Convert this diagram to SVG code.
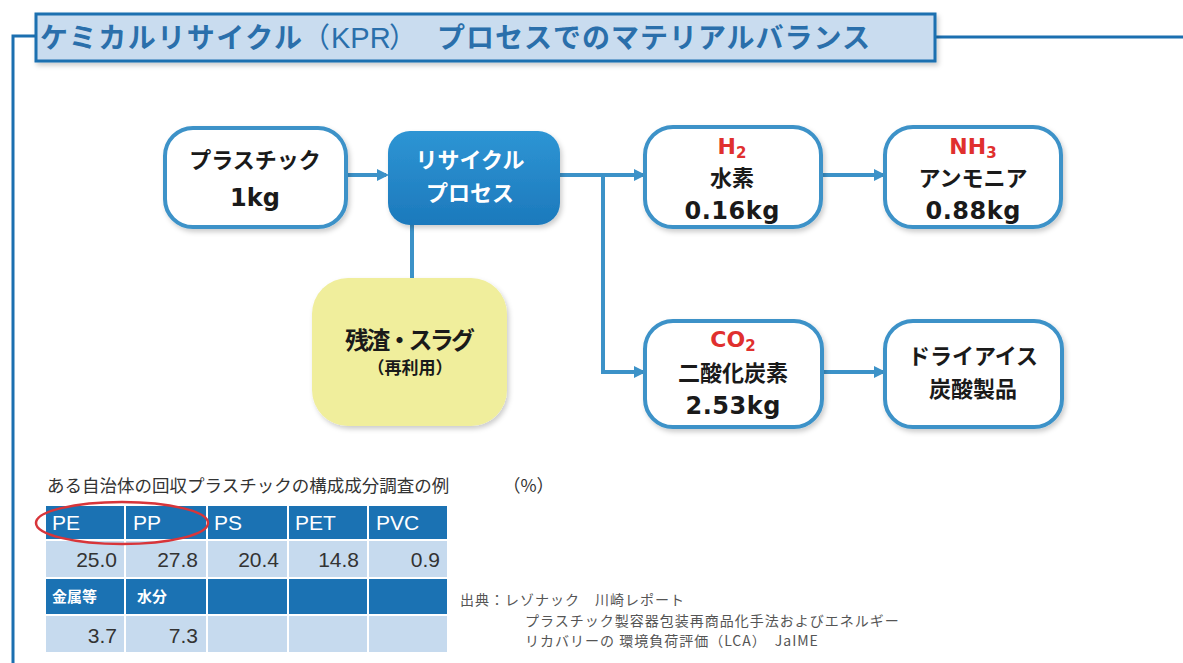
<svg xmlns="http://www.w3.org/2000/svg" width="1183" height="663" viewBox="0 0 1183 663">
<defs>
<style>
.jp{font-family:"DejaVu Sans","Noto Sans CJK JP",sans-serif;font-weight:bold;}
.title{font-family:"Noto Sans CJK JP",sans-serif;font-weight:bold;fill:#2a6fab;font-size:28px;}
.box{fill:#ffffff;stroke:#3c92c8;stroke-width:4;}
.conn{stroke:#3c92c8;stroke-width:4;fill:none;}
.dark{fill:#1a1a1a;}
.red{fill:#e0302e;}
.tbl{font-family:"Liberation Sans","Noto Sans CJK JP",sans-serif;}
.hd{fill:#1b72b3;}
.dt{fill:#c6daee;}
.note{font-family:"Noto Sans CJK JP",sans-serif;fill:#555;font-size:14px;letter-spacing:1px;}
</style>
<linearGradient id="blueg" x1="0" y1="0" x2="0" y2="1">
<stop offset="0" stop-color="#2e95d4"/>
<stop offset="1" stop-color="#1c79bc"/>
</linearGradient>
<marker id="arr" markerWidth="12" markerHeight="12" refX="9" refY="6" orient="auto" markerUnits="userSpaceOnUse" viewBox="0 0 12 12">
<path d="M0,0 L12,6 L0,12 z" fill="#3c92c8"/>
</marker>
<filter id="sh" x="-10%" y="-10%" width="130%" height="130%">
<feDropShadow dx="2" dy="3" stdDeviation="2.5" flood-color="#000" flood-opacity="0.2"/>
</filter>
</defs>
<rect width="1183" height="663" fill="#ffffff"/>

<g id="frame">
<path d="M13,663 V36 H36" fill="none" stroke="#1b6fb0" stroke-width="3"/>
<line x1="935" y1="37" x2="1183" y2="37" stroke="#1b6fb0" stroke-width="3"/>
<rect x="36" y="14" width="899" height="47" fill="#c9dcef" stroke="#1b6fb0" stroke-width="3" filter="url(#sh)"/>
<text class="title" y="48"><tspan x="40" textLength="262">ケミカルリサイクル</tspan><tspan x="302" font-weight="normal">（</tspan><tspan x="331" font-weight="normal" font-family="Liberation Sans, sans-serif" font-size="29">KPR</tspan><tspan x="389" font-weight="normal">）</tspan><tspan x="437" textLength="433">プロセスでのマテリアルバランス</tspan></text>
</g>

<g id="connectors">
<line class="conn" x1="347" y1="175" x2="386" y2="175" marker-end="url(#arr)"/>
<line class="conn" x1="560" y1="175" x2="643" y2="175" marker-end="url(#arr)"/>
<path class="conn" d="M603,175 V372 H643" marker-end="url(#arr)"/>
<line class="conn" x1="822" y1="175" x2="883" y2="175" marker-end="url(#arr)"/>
<line class="conn" x1="824" y1="372" x2="883" y2="372" marker-end="url(#arr)"/>
<line class="conn" x1="412" y1="225" x2="412" y2="279"/>
</g>

<g id="plastic">
<rect class="box" x="165" y="128" width="181" height="99" rx="28" filter="url(#sh)"/>
<text class="jp dark" x="255" y="168" font-size="22" text-anchor="middle">プラスチック</text>
<text class="jp dark" x="255" y="206" font-size="24" text-anchor="middle">1kg</text>
</g>

<g id="recycle">
<rect x="388" y="131" width="172" height="94" rx="22" fill="url(#blueg)" filter="url(#sh)"/>
<text class="jp" x="470" y="168" font-size="22" fill="#ffffff" text-anchor="middle">リサイクル</text>
<text class="jp" x="470" y="201" font-size="22" fill="#ffffff" text-anchor="middle">プロセス</text>
</g>

<g id="residue">
<rect x="312" y="278" width="195" height="148" rx="36" fill="#f0ee9c" filter="url(#sh)"/>
<text class="jp dark" x="410" y="349" font-size="24" text-anchor="middle" textLength="130">残渣・スラグ</text>
<text class="jp dark" x="410" y="374" font-size="17" text-anchor="middle">（再利用）</text>
</g>

<g id="h2">
<rect class="box" x="645" y="127" width="176" height="100" rx="28" filter="url(#sh)"/>
<text class="jp red" x="732" y="154" font-size="22" text-anchor="middle">H<tspan font-size="15" dy="4">2</tspan></text>
<text class="jp dark" x="732" y="186" font-size="22" text-anchor="middle">水素</text>
<text class="jp dark" x="732" y="219" font-size="24" text-anchor="middle" textLength="95">0.16kg</text>
</g>

<g id="nh3">
<rect class="box" x="885" y="127" width="176" height="100" rx="28" filter="url(#sh)"/>
<text class="jp red" x="973" y="154" font-size="22" text-anchor="middle">NH<tspan font-size="15" dy="4">3</tspan></text>
<text class="jp dark" x="973" y="186" font-size="22" text-anchor="middle">アンモニア</text>
<text class="jp dark" x="973" y="219" font-size="24" text-anchor="middle" textLength="95">0.88kg</text>
</g>

<g id="co2">
<rect class="box" x="645" y="321" width="177" height="106" rx="28" filter="url(#sh)"/>
<text class="jp red" x="733" y="347" font-size="22" text-anchor="middle">CO<tspan font-size="15" dy="4">2</tspan></text>
<text class="jp dark" x="733" y="381" font-size="22" text-anchor="middle">二酸化炭素</text>
<text class="jp dark" x="733" y="414" font-size="24" text-anchor="middle" textLength="95">2.53kg</text>
</g>

<g id="dryice">
<rect class="box" x="885" y="321" width="177" height="106" rx="28" filter="url(#sh)"/>
<text class="jp dark" x="973" y="364" font-size="22" text-anchor="middle">ドライアイス</text>
<text class="jp dark" x="973" y="397" font-size="22" text-anchor="middle">炭酸製品</text>
</g>

<g id="table">
<text x="47" y="492" font-family="Noto Sans CJK JP, sans-serif" font-size="17.5" fill="#333">ある自治体の回収プラスチックの構成成分調査の例</text>
<text x="503" y="492" font-family="Noto Sans CJK JP, sans-serif" font-size="17.5" fill="#333">（%）</text>
<g stroke="#ffffff" stroke-width="2">
<rect class="hd" x="45" y="505" width="80" height="35"/>
<rect class="hd" x="125" y="505" width="82" height="35"/>
<rect class="hd" x="207" y="505" width="81" height="35"/>
<rect class="hd" x="288" y="505" width="80" height="35"/>
<rect class="hd" x="368" y="505" width="80" height="35"/>
<rect class="dt" x="45" y="540" width="80" height="38"/>
<rect class="dt" x="125" y="540" width="82" height="38"/>
<rect class="dt" x="207" y="540" width="81" height="38"/>
<rect class="dt" x="288" y="540" width="80" height="38"/>
<rect class="dt" x="368" y="540" width="80" height="38"/>
<rect class="hd" x="45" y="578" width="80" height="37"/>
<rect class="hd" x="125" y="578" width="82" height="37"/>
<rect class="hd" x="207" y="578" width="81" height="37"/>
<rect class="hd" x="288" y="578" width="80" height="37"/>
<rect class="hd" x="368" y="578" width="80" height="37"/>
<rect class="dt" x="45" y="615" width="80" height="38"/>
<rect class="dt" x="125" y="615" width="82" height="38"/>
<rect class="dt" x="207" y="615" width="81" height="38"/>
<rect class="dt" x="288" y="615" width="80" height="38"/>
<rect class="dt" x="368" y="615" width="80" height="38"/>
</g>
<g class="tbl" font-size="21" fill="#ffffff">
<text x="52" y="530">PE</text>
<text x="133" y="530">PP</text>
<text x="214" y="530">PS</text>
<text x="295" y="530">PET</text>
<text x="376" y="530">PVC</text>
</g>
<g class="tbl" font-size="21" fill="#333333" text-anchor="end">
<text x="117" y="567">25.0</text>
<text x="198" y="567">27.8</text>
<text x="279" y="567">20.4</text>
<text x="359" y="567">14.8</text>
<text x="440" y="567">0.9</text>
<text x="117" y="643">3.7</text>
<text x="198" y="643">7.3</text>
</g>
<g font-family="Noto Sans CJK JP, sans-serif" font-weight="bold" font-size="15" fill="#ffffff">
<text x="52" y="602">金属等</text>
<text x="137" y="602">水分</text>
</g>
<ellipse cx="122" cy="523" rx="86" ry="21" fill="none" stroke="#d8353a" stroke-width="2.5"/>
</g>

<g id="source">
<text class="note" x="460" y="605">出典：レゾナック　川崎レポート</text>
<text class="note" x="525" y="626">プラスチック製容器包装再商品化手法およびエネルギー</text>
<text class="note" x="525" y="646">リカバリーの 環境負荷評価（LCA）　JaIME</text>
</g>
</svg>
